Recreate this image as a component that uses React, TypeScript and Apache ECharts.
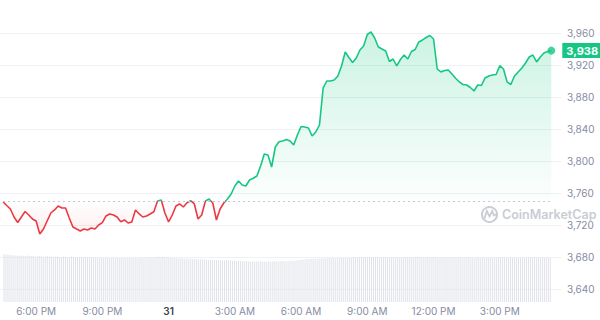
import React, { useEffect, useRef } from "react";
import * as echarts from "echarts";

// ---- data ----
const startDay = 30;
const startMinutes = 16 * 60 + 30; // 4:30 PM
const stepMinutes = 10;

const prices = [
  3749.1, 3744.4, 3740.0, 3730.0, 3723.1, 3730.0, 3736.9, 3732.5, 3727.5, 3725.0,
  3708.8, 3715.0, 3725.0, 3735.0, 3738.8, 3743.8, 3741.3, 3741.3, 3728.8, 3717.5,
  3715.0, 3712.5, 3715.0, 3713.8, 3716.3, 3715.0, 3720.0, 3722.9, 3731.3, 3733.8,
  3732.5, 3730.0, 3724.1, 3726.3, 3722.5, 3723.8, 3738.8, 3733.8, 3730.0, 3731.3,
  3733.8, 3736.6, 3750.0, 3751.3, 3735.0, 3723.8, 3732.5, 3743.8, 3746.3, 3742.5,
  3747.9, 3750.4, 3746.3, 3727.5, 3732.5, 3750.0, 3752.5, 3747.5, 3726.3, 3740.0,
  3747.5, 3752.5, 3758.8, 3768.8, 3775.0, 3770.0, 3768.8, 3776.3, 3778.4, 3781.3,
  3793.8, 3808.8, 3807.5, 3792.5, 3817.5, 3824.1, 3825.0, 3826.9, 3825.0, 3820.0,
  3832.5, 3843.1, 3842.5, 3841.3, 3831.3, 3836.3, 3845.0, 3891.3, 3900.0, 3900.0,
  3901.3, 3906.3, 3918.8, 3936.3, 3929.4, 3923.1, 3928.8, 3938.8, 3943.8, 3958.1,
  3961.3, 3953.8, 3942.5, 3940.0, 3937.5, 3924.4, 3927.5, 3918.8, 3926.9, 3932.5,
  3927.5, 3936.9, 3939.4, 3948.8, 3951.3, 3954.4, 3956.9, 3952.5, 3915.0, 3911.3,
  3913.1, 3913.8, 3908.8, 3903.4, 3898.8, 3895.6, 3895.0, 3891.9, 3887.5, 3895.0,
  3894.4, 3903.8, 3906.3, 3907.5, 3908.1, 3919.1, 3915.0, 3898.8, 3895.6, 3906.3,
  3911.3, 3916.3, 3922.5, 3930.0, 3932.5, 3923.8, 3930.0, 3935.0, 3936.9, 3938.0,
];

const volumes = [
  9.6, 9.5, 9.5, 9.4, 9.4, 9.3, 9.3, 9.3, 9.2, 9.3, 9.2, 9.2, 9.3, 9.2, 9.2, 9.2, 9.1, 9.2, 9.2, 9.1,
  9.1, 9.1, 9.2, 9.1, 9.1, 9.0, 9.1, 9.1, 9.0, 9.0, 9.1, 9.0, 9.0, 9.0, 9.1, 9.0, 9.0, 8.9, 9.0, 9.0,
  8.9, 9.0, 8.9, 8.9, 9.0, 8.9, 8.9, 8.9, 8.8, 8.9, 8.9, 8.8, 8.9, 8.8, 8.8, 8.9, 8.8, 8.8, 8.8, 8.9,
  8.8, 8.8, 8.9, 8.8, 8.8, 8.8, 8.9, 8.8, 8.9, 8.9, 8.8, 8.9, 8.9, 9.0, 8.9, 8.9, 9.0, 9.0, 9.1, 9.0,
  9.1, 9.0, 9.0, 8.9, 8.9, 8.8, 8.8, 8.8, 8.7, 8.8, 8.7, 8.7, 8.7, 8.6, 8.7, 8.6, 8.6, 8.6, 8.5, 8.6,
  8.5, 8.5, 8.5, 8.4, 8.5, 8.4, 8.4, 8.4, 8.3, 8.4, 8.3, 8.3, 8.4, 8.3, 8.3, 8.2, 8.3, 8.2, 8.2, 8.2,
  8.2, 8.1, 8.2, 8.1, 8.1, 8.2, 8.1, 8.1, 8.1, 8.2, 8.1, 8.1, 8.0, 8.1, 8.1, 8.1, 8.2, 8.1, 8.1, 8.2,
  8.2, 8.2, 8.1, 8.2, 8.3, 8.2, 8.3, 8.3, 8.4, 8.4, 8.5, 8.5, 8.6, 8.6, 8.6, 8.7, 8.7, 8.6, 8.7, 8.7,
  8.7, 8.8, 8.7, 8.8, 8.8, 8.8, 8.8, 8.7, 8.8, 8.8, 8.9, 8.8, 8.8, 8.9, 8.9, 8.8, 8.9, 8.9, 8.9, 9.0,
  8.9, 9.0, 8.9, 8.9, 9.0, 9.0, 8.9, 9.0, 8.9, 8.9, 8.9, 9.0, 8.9, 8.9, 8.9, 8.9, 9.0, 8.9, 8.9, 8.9,
  8.9, 9.0, 9.0, 9.0, 8.9, 9.0, 9.0, 9.0, 9.1, 9.0, 9.0, 9.0, 8.9, 9.0, 9.0, 8.9, 9.0, 9.0, 8.9, 8.9,
  9.0, 8.9, 8.9, 9.0, 8.9, 9.0, 8.9, 8.9, 8.9, 9.0, 8.9, 8.9, 8.9, 8.9, 9.0, 8.9, 8.9, 8.8, 8.9, 8.9,
  8.9, 8.9, 8.8, 8.9, 8.9, 8.9, 8.8, 8.9, 8.9, 8.9, 9.0, 8.9, 8.9, 8.9, 8.8, 8.9, 8.9, 8.9, 8.9, 8.8,
  8.9, 8.9, 8.9, 8.8, 8.9, 8.9, 8.9, 8.9, 8.8, 8.9, 8.9, 8.9, 8.9, 8.9, 8.8, 8.9,
];

const tickLabels = ["6:00 PM", "9:00 PM", "31", "3:00 AM", "6:00 AM", "9:00 AM", "12:00 PM", "3:00 PM"];
const priceTickMin = 3640;
const priceTickMax = 3960;
const priceTickStep = 40;
const baselinePrice = 3750;

// ---- helpers ----
const GREEN = "#16c784";
const RED = "#ea3943";
const LABEL = "#858ca2";

const pad2 = (n: number) => String(n).padStart(2, "0");
const categories = prices.map((_, i) => {
  const total = startMinutes + i * stepMinutes;
  const day = startDay + Math.floor(total / 1440);
  const m = total % 1440;
  return `${day} ${pad2(Math.floor(m / 60))}:${pad2(m % 60)}`;
});
const fmtCat = (c: string) => {
  const [day, hm] = c.split(" ");
  const [h, m] = hm.split(":").map(Number);
  if (h === 0 && m === 0) return day;
  const h12 = h % 12 === 0 ? 12 : h % 12;
  return `${h12}:${pad2(m)} ${h < 12 ? "AM" : "PM"}`;
};
const volumeCats = volumes.map((_, i) => String(i));
const lastPrice = prices[prices.length - 1];
const fmtNum = (v: number) => Math.round(v).toLocaleString("en-US");

export default function App() {
  const ref = useRef<HTMLDivElement>(null);
  useEffect(() => {
    document.body.style.margin = "0";
    if (!ref.current) return;
    const chart = echarts.init(ref.current, undefined, { renderer: "svg" });
    const wm = "#c9cdd4";
    chart.setOption({
      animation: false,
      textStyle: { fontFamily: "Inter, 'Noto Sans', sans-serif" },
      grid: [
        { left: 0, right: 48.7, top: 2, height: 300 },
        { left: 0, right: 39, top: 33, height: 256 },
      ],
      xAxis: [
        {
          type: "category",
          gridIndex: 0,
          data: categories,
          boundaryGap: false,
          axisLine: { show: false },
          axisTick: { show: false },
          splitLine: { show: false },
          axisLabel: {
            margin: 4,
            fontSize: 10,
            color: LABEL,
            interval: 0,
            formatter: (v: string) => {
              const t = fmtCat(v);
              if (!tickLabels.includes(t)) return "";
              return /^\d+$/.test(t) ? `{d|${t}}` : t;
            },
            rich: { d: { color: "#3a3f4b", fontWeight: 600, fontSize: 10 } },
          },
        },
        { type: "category", gridIndex: 0, data: volumeCats, boundaryGap: true, show: false },
        { type: "value", gridIndex: 1, min: 0, max: 1, show: false },
      ],
      yAxis: [
        { type: "value", gridIndex: 0, min: 3623.75, max: 3998.75, show: false, splitLine: { show: false } },
        { type: "value", gridIndex: 0, min: 0, max: 60, show: false, splitLine: { show: false } },
        {
          type: "value",
          gridIndex: 1,
          position: "right",
          min: priceTickMin,
          max: priceTickMax,
          interval: priceTickStep,
          axisLine: { show: false },
          axisTick: { show: false },
          splitLine: { lineStyle: { color: "#eff1f4", width: 1 } },
          axisLabel: { margin: 6, fontSize: 10, color: LABEL, formatter: (v: number) => fmtNum(v) },
        },
      ],
      series: [
        {
          type: "bar",
          xAxisIndex: 1,
          yAxisIndex: 1,
          data: volumes,
          barWidth: 1,
          itemStyle: { color: "#dfe2e8" },
          silent: true,
          z: 1,
        },
        {
          type: "line",
          xAxisIndex: 0,
          yAxisIndex: 0,
          data: prices,
          showSymbol: false,
          lineStyle: { width: 1.6, color: GREEN },
          areaStyle: { origin: baselinePrice, color: "rgba(22,199,132,0.15)" },
          z: 3,
          markLine: {
            silent: true,
            symbol: ["none", "none"],
            data: [
              {
                yAxis: baselinePrice,
                lineStyle: { color: "#c5cad2", type: [2, 3], width: 1 },
                label: { show: false },
              },
              {
                yAxis: lastPrice,
                lineStyle: { color: "rgba(0,0,0,0)", width: 1 },
                label: {
                  show: true,
                  position: "end",
                  distance: 11,
                  formatter: fmtNum(lastPrice),
                  backgroundColor: GREEN,
                  color: "#ffffff",
                  fontWeight: "bold",
                  fontSize: 11,
                  padding: [2, 4],
                },
              },
            ],
          },
        },
        {
          type: "scatter",
          xAxisIndex: 0,
          yAxisIndex: 0,
          data: [[categories.length - 1, lastPrice]],
          symbolSize: 8,
          itemStyle: { color: GREEN },
          silent: true,
          z: 4,
        },
      ],
      graphic: [
        {
          type: "circle",
          shape: { cx: 489.5, cy: 214.5, r: 7.5 },
          style: { fill: "none", stroke: wm, lineWidth: 2 },
          z: 10,
        },
        {
          type: "polyline",
          shape: { points: [[484.5, 218.5], [486.8, 211], [489.5, 216.5], [492.2, 211], [494, 215.5], [497.5, 213.5]] },
          style: { fill: "none", stroke: wm, lineWidth: 1.8 },
          z: 10,
        },
        {
          type: "text",
          x: 502,
          y: 214.5,
          style: {
            text: "CoinMarketCap",
            fontSize: 12.5,
            fontWeight: 600,
            fill: wm,
            verticalAlign: "middle",
            fontFamily: "Inter, sans-serif",
          },
          z: 10,
        },
      ],
    });

    // colour the line and the area by the baseline's pixel position
    const yBase = chart.convertToPixel({ yAxisIndex: 0 } as any, baselinePrice) as unknown as number;
    const H = 320;
    const f = Math.min(Math.max(yBase / H, 0), 1);
    const lineGrad = new echarts.graphic.LinearGradient(
      0, 0, 0, H,
      [
        { offset: 0, color: GREEN },
        { offset: f, color: GREEN },
        { offset: f, color: RED },
        { offset: 1, color: RED },
      ],
      true
    );
    const topPix = chart.convertToPixel({ yAxisIndex: 0 } as any, 3965) as unknown as number;
    const lowPix = chart.convertToPixel({ yAxisIndex: 0 } as any, 3705) as unknown as number;
    const span = lowPix - topPix;
    const fb = (yBase - topPix) / span;
    const areaGrad = new echarts.graphic.LinearGradient(
      0, topPix, 0, lowPix,
      [
        { offset: 0, color: "rgba(22,199,132,0.32)" },
        { offset: Math.max(fb - 0.001, 0), color: "rgba(22,199,132,0.02)" },
        { offset: fb, color: "rgba(234,57,67,0.0)" },
        { offset: 1, color: "rgba(234,57,67,0.14)" },
      ],
      true
    );
    chart.setOption({
      series: [{}, { lineStyle: { color: lineGrad }, areaStyle: { color: areaGrad } }, {}],
    });
    return () => chart.dispose();
  }, []);
  return <div ref={ref} style={{ width: 600, height: 320 }} />;
}
